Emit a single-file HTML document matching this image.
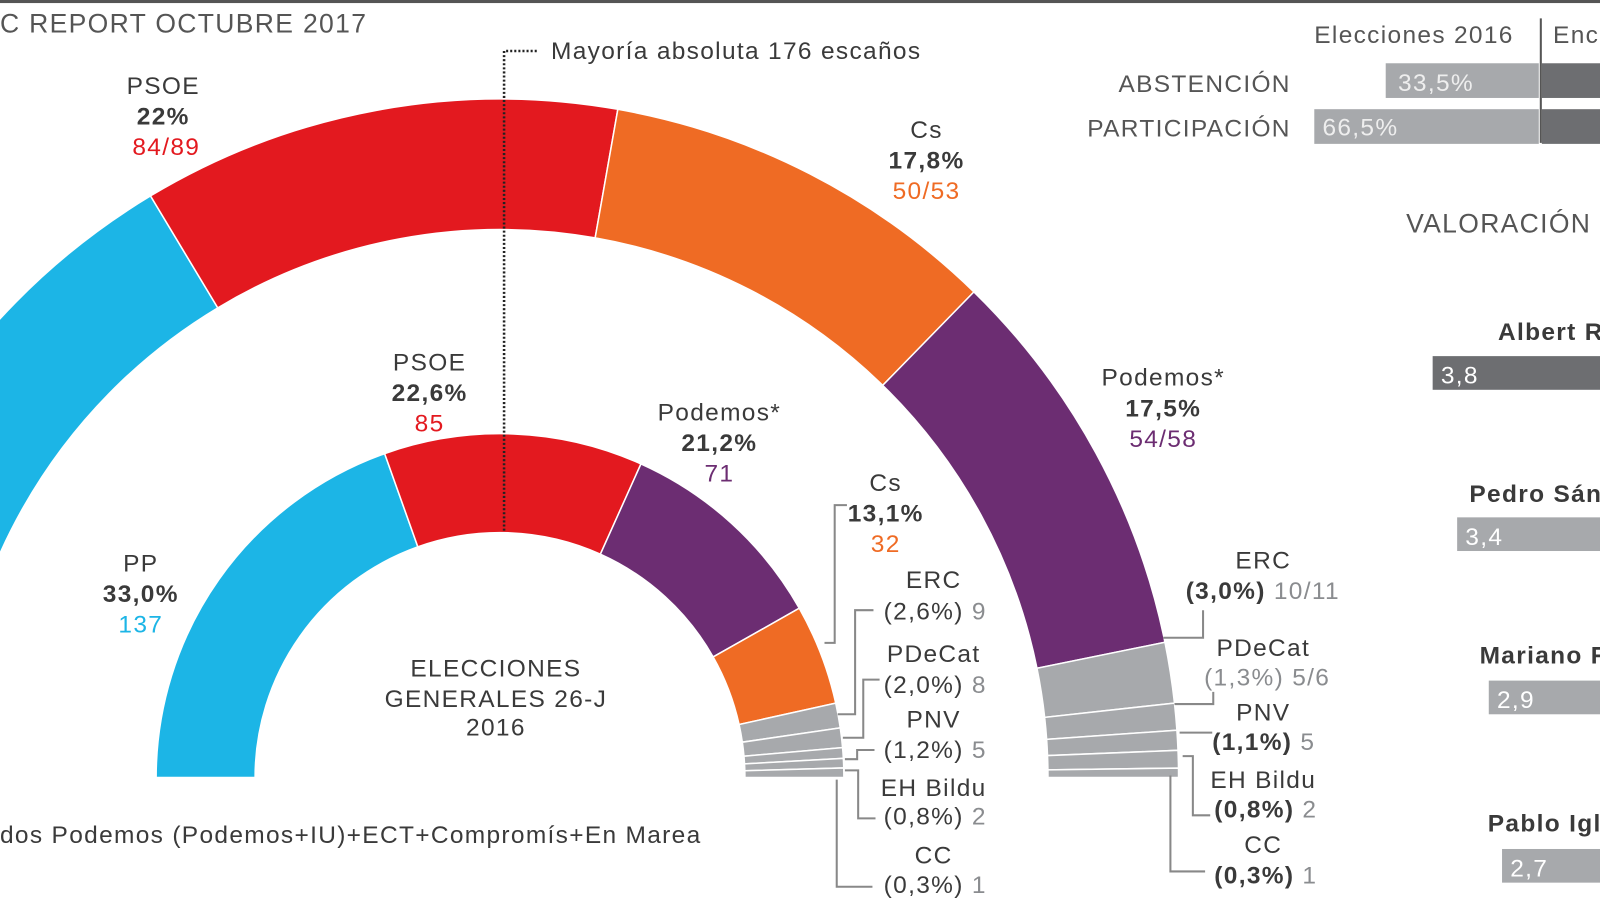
<!DOCTYPE html>
<html><head><meta charset="utf-8"><style>
html,body{margin:0;padding:0;background:#fff;width:1600px;height:900px;overflow:hidden}
svg{display:block}
text{font-family:"Liberation Sans",sans-serif;fill:#3a3a3a;font-size:24px;letter-spacing:1.3px}
.b{font-weight:bold}
.g{fill:#8a8c8f}
.c{text-anchor:middle}
</style></head><body>
<svg id="s" width="1600" height="900" viewBox="0 0 1568 882" xmlns="http://www.w3.org/2000/svg">
<rect x="0" y="0" width="1568" height="3" fill="#555"/>
<g id="arcs"></g>
<line x1="494" y1="50" x2="494" y2="520" stroke="#222" stroke-width="2.5" stroke-dasharray="2,2"/>
<line x1="496" y1="50" x2="526" y2="50" stroke="#222" stroke-width="2.5" stroke-dasharray="2,2"/>
<text x="540" y="58">Mayoría absoluta 176 escaños</text>
<text x="0" y="32" style="font-size:26px;fill:#555">C REPORT OCTUBRE 2017</text>

<text class="c" x="160" y="92">PSOE</text><text class="c b" x="160" y="122">22%</text><text class="c" x="163" y="152" style="fill:#e3191f">84/89</text>
<text class="c" x="908" y="135">Cs</text><text class="c b" x="908" y="165">17,8%</text><text class="c" x="908" y="195" style="fill:#ef6b24">50/53</text>
<text class="c" x="1140" y="378">Podemos*</text><text class="c b" x="1140" y="408">17,5%</text><text class="c" x="1140" y="438" style="fill:#6c2d72">54/58</text>
<text class="c" x="1238" y="557">ERC</text><text x="1162" y="587"><tspan class="b">(3,0%)</tspan><tspan class="g"> 10/11</tspan></text>
<text class="c" x="1238" y="643">PDeCat</text><text x="1180" y="672" class="g">(1,3%) 5/6</text>
<text class="c" x="1238" y="706">PNV</text><text x="1188" y="735"><tspan class="b">(1,1%)</tspan><tspan class="g"> 5</tspan></text>
<text class="c" x="1238" y="772">EH Bildu</text><text x="1190" y="801"><tspan class="b">(0,8%)</tspan><tspan class="g"> 2</tspan></text>
<text class="c" x="1238" y="836">CC</text><text x="1190" y="866"><tspan class="b">(0,3%)</tspan><tspan class="g"> 1</tspan></text>

<text class="c" x="421" y="363">PSOE</text><text class="c b" x="421" y="393">22,6%</text><text class="c" x="421" y="423" style="fill:#e3191f">85</text>
<text class="c" x="705" y="412">Podemos*</text><text class="c b" x="705" y="442">21,2%</text><text class="c" x="705" y="472" style="fill:#6c2d72">71</text>
<text class="c" x="868" y="481">Cs</text><text class="c b" x="868" y="511">13,1%</text><text class="c" x="868" y="541" style="fill:#ef6b24">32</text>
<text class="c" x="138" y="560">PP</text><text class="c b" x="138" y="590">33,0%</text><text class="c" x="138" y="620" style="fill:#1cb5e6">137</text>
<text class="c" x="915" y="576">ERC</text><text x="866" y="607">(2,6%) <tspan class="g">9</tspan></text>
<text class="c" x="915" y="649">PDeCat</text><text x="866" y="679">(2,0%) <tspan class="g">8</tspan></text>
<text class="c" x="915" y="713">PNV</text><text x="866" y="743">(1,2%) <tspan class="g">5</tspan></text>
<text class="c" x="915" y="780">EH Bildu</text><text x="866" y="808">(0,8%) <tspan class="g">2</tspan></text>
<text class="c" x="915" y="846">CC</text><text x="866" y="875">(0,3%) <tspan class="g">1</tspan></text>
<text class="c" x="486" y="663">ELECCIONES</text><text class="c" x="486" y="693">GENERALES 26-J</text><text class="c" x="486" y="721">2016</text>
<text x="0" y="826">dos Podemos (Podemos+IU)+ECT+Compromís+En Marea</text>

<g fill="none" stroke="#888" stroke-width="2">
<polyline points="1140,625 1179,625 1179,598"/>
<polyline points="1151,690 1189,690 1189,678"/>
<polyline points="1156,718 1188,718"/>
<polyline points="1159,741 1169,741 1169,799 1186,799"/>
<polyline points="1147,760 1147,854 1181,854"/>
<polyline points="808,630 818,630 818,495 830,495"/>
<polyline points="821,700 838,700 838,598 856,598"/>
<polyline points="826,723 846,723 846,666 862,666"/>
<polyline points="828,744 840,744 840,735 857,735"/>
<polyline points="828,755 841,755 841,802 858,802"/>
<polyline points="820,764 820,869 855,869"/>
</g>

<text x="1288" y="42" style="fill:#555">Elecciones 2016</text><text x="1522" y="42" style="fill:#555">Enc</text>
<line x1="1510" y1="18" x2="1510" y2="140" stroke="#555" stroke-width="2"/>
<text x="1265" y="90" style="text-anchor:end;fill:#555">ABSTENCIÓN</text>
<text x="1265" y="134" style="text-anchor:end;fill:#555">PARTICIPACIÓN</text>
<rect x="1358" y="62" width="150" height="34" fill="#a7a9ac"/><rect x="1511" y="62" width="57" height="34" fill="#6d6e71"/>
<rect x="1288" y="107" width="220" height="34" fill="#a7a9ac"/><rect x="1511" y="107" width="57" height="34" fill="#6d6e71"/>
<text x="1370" y="89" style="fill:#eee">33,5%</text><text x="1296" y="133" style="fill:#eee">66,5%</text>
<text x="1378" y="228" style="font-size:26px;fill:#555">VALORACIÓN</text>
<text x="1468" y="333" class="b">Albert R</text>
<rect x="1404" y="349" width="164" height="33" fill="#6d6e71"/><text x="1412" y="376" style="fill:#fff">3,8</text>
<text x="1440" y="492" class="b">Pedro Sán</text>
<rect x="1428" y="507" width="140" height="33" fill="#a7a9ac"/><text x="1436" y="534" style="fill:#fff">3,4</text>
<text x="1450" y="650" class="b">Mariano R</text>
<rect x="1459" y="667" width="109" height="33" fill="#a7a9ac"/><text x="1467" y="694" style="fill:#fff">2,9</text>
<text x="1458" y="815" class="b">Pablo Igl</text>
<rect x="1472" y="832" width="96" height="33" fill="#a7a9ac"/><text x="1480" y="859" style="fill:#fff">2,7</text>
</svg>
<script>
(function(){
var cx=490,cy=762,g=document.getElementById('arcs'),ns='http://www.w3.org/2000/svg';
function seg(R,r,a1,a2,col){
 var t=Math.PI/180;
 function p(rad,a){return (cx+rad*Math.cos(a*t)).toFixed(2)+','+(cy-rad*Math.sin(a*t)).toFixed(2);}
 var d='M'+p(R,a1)+' A'+R+','+R+' 0 0 1 '+p(R,a2)+' L'+p(r,a2)+' A'+r+','+r+' 0 0 0 '+p(r,a1)+' Z';
 var e=document.createElementNS(ns,'path');e.setAttribute('d',d);e.setAttribute('fill',col);
 e.setAttribute('stroke','#fff');e.setAttribute('stroke-width','1.5');g.appendChild(e);
}
var B='#1cb5e6',Rd='#e3191f',O='#ef6b24',P='#6c2d72',G='#a7a9ac';
var outer=[[180,121,B],[121,80,Rd],[80,45.7,O],[45.7,11.5,P],[11.5,6.3,G],[6.3,4,G],[4,2.3,G],[2.3,0.8,G],[0.8,0,G]];
outer.forEach(function(s){seg(665,537,s[0],s[1],s[2]);});
var inner=[[180,109.6,B],[109.6,65.8,Rd],[65.8,29.5,P],[29.5,12.5,O],[12.5,8.3,G],[8.3,5,G],[5,3.2,G],[3.2,1.6,G],[1.6,0,G]];
inner.forEach(function(s){seg(337,240,s[0],s[1],s[2]);});
})();
</script>
</body></html>
